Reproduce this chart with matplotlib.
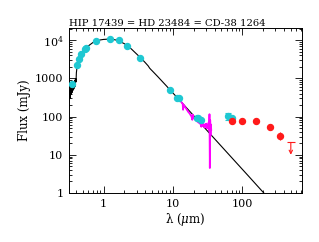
import matplotlib
matplotlib.use("Agg")
import matplotlib.pyplot as plt
from matplotlib.ticker import LogLocator, NullFormatter, FixedLocator, FixedFormatter

plt.rcParams["font.family"] = ["DejaVu Serif"]
plt.rcParams["mathtext.fontset"] = "dejavuserif"

# photometry (cyan)
phot_wl = [0.35, 0.41, 0.44, 0.466, 0.54, 0.55, 0.77, 1.23, 1.66, 2.19, 3.35, 9.06, 11.6, 12.1, 22.0, 23.2, 25.0, 72.0]
phot_fx = [710, 2200, 3150, 4400, 5900, 6200, 9200, 10800, 9800, 7200, 3450, 500, 310, 300, 92, 89, 80, 89]
# IRAS 60 with error bar
iras_wl = [61.5]
iras_fx = [104]
iras_err = [22]

# far-IR photometry (red)
fir_wl = [72, 100, 160, 250, 350]
fir_fx = [76, 76, 76, 52, 31.5]
fir_err = [4, 4, 4, 6, 7]
ul_wl = [500]
ul_fx = [21]

# photospheric model
mod_wl = [0.316, 0.325, 0.33, 0.335, 0.34, 0.345, 0.35, 0.355, 0.36, 0.365, 0.37, 0.375,
          0.38, 0.385, 0.39, 0.395, 0.40, 0.405, 0.41, 0.42, 0.44, 0.47, 0.50, 0.55, 0.6,
          0.7, 0.8, 0.9, 1.0, 1.2, 1.4, 1.6, 2.0, 2.5, 3.0, 3.5, 4.0, 4.4, 4.6, 4.8,
          5.0, 6, 8, 10, 12, 15, 20, 30, 50, 80, 120, 200, 300]
mod_fx = [230, 480, 300, 560, 380, 650, 420, 700, 480, 760, 520, 820,
          560, 900, 620, 980, 800, 1400, 1700, 2300, 3200, 4200, 5000, 6000, 7000,
          8600, 9500, 10100, 10400, 10600, 10300, 9800, 8000, 5900, 4300, 3300, 2550, 2100, 1850, 1700,
          1580, 1120, 640, 410, 290, 185, 104, 46, 16.6, 6.5, 2.9, 1.04, 0.46]

# IRS spectrum (magenta)
irs_wl = [13.2, 13.5, 13.8, 14.0, 14.2, 14.5, 14.8, 15.1, 15.4, 15.8, 16.2, 16.6, 17.0,
          17.5, 18.0, 18.5, 19.0, 19.3, 19.6, 20.0, 20.4, 20.8, 21.3, 21.8, 22.3, 22.8,
          23.3, 23.8, 24.4, 25.0, 25.6, 26.2, 26.8, 27.4, 28.0, 28.6, 29.2, 29.8, 30.4,
          31.0, 31.6, 32.2, 32.8, 33.2, 33.6, 34.0, 34.4, 34.8, 35.2, 35.6]
irs_fx = [240, 225, 215, 150, 205, 190, 182, 172, 165, 152, 142, 132, 126,
          118, 108, 100, 82, 112, 96, 92, 88, 84, 80, 78, 75, 72,
          70, 68, 66, 63, 54, 66, 57, 64, 59, 51, 63, 56, 65,
          49, 61, 54, 72, 44, 115, 4.5, 80, 32, 62, 45]

cyan = "#1fc8d2"
red = "#ff1a1a"

fig = plt.figure(figsize=(3.19, 2.42), dpi=100)
ax = fig.add_axes([0.216, 0.2025, 0.731, 0.6835])

ax.plot(mod_wl, mod_fx, color="black", lw=0.8, zorder=2)
ax.plot(irs_wl, irs_fx, color="#ff00ff", lw=1.3, zorder=3)
ax.plot(phot_wl, phot_fx, "o", color=cyan, ms=4.3, mec=cyan, zorder=4)
ax.errorbar(iras_wl, iras_fx, yerr=iras_err, fmt="o", color=cyan, ms=4.3,
            capsize=2, elinewidth=0.8, capthick=0.8, zorder=4)
ax.errorbar(fir_wl, fir_fx, yerr=fir_err, fmt="o", color=red, ms=4.3,
            capsize=0, elinewidth=0.8, zorder=5)
for w, f in zip(ul_wl, ul_fx):
    ax.plot([w], [f], marker="_", color=red, ms=6, mew=0.8)
    ax.annotate("", xy=(w, f / 2.1), xytext=(w, f),
                arrowprops=dict(arrowstyle="->", color=red, lw=0.8,
                                shrinkA=0, shrinkB=0, mutation_scale=6))

ax.set_xscale("log")
ax.set_yscale("log")
ax.set_xlim(0.316, 727)
ax.set_ylim(1, 21200)

ax.xaxis.set_major_locator(FixedLocator([1, 10, 100]))
ax.xaxis.set_major_formatter(FixedFormatter(["1", "10", "100"]))
ax.xaxis.set_minor_locator(LogLocator(base=10, subs=range(2, 10)))
ax.xaxis.set_minor_formatter(NullFormatter())
ax.yaxis.set_major_locator(FixedLocator([1, 10, 100, 1000, 1e4]))
ax.yaxis.set_major_formatter(FixedFormatter(["1", "10", "100", "1000", r"10$^4$"]))
ax.yaxis.set_minor_locator(LogLocator(base=10, subs=range(2, 10)))
ax.yaxis.set_minor_formatter(NullFormatter())

ax.tick_params(which="both", direction="in", top=True, right=True,
               labelsize=8, width=0.6, colors="black", pad=4)
ax.tick_params(which="major", length=5)
ax.tick_params(which="minor", length=2.5)
for s in ax.spines.values():
    s.set_linewidth(0.7)

ax.set_xlabel(r"λ ($\mu$m)", fontsize=8.5, labelpad=2)
ax.set_ylabel("Flux (mJy)", fontsize=8.5, labelpad=3)
ax.set_title("HIP 17439 = HD 23484 = CD-38 1264", fontsize=7.2, loc="left", pad=1.5)

fig.savefig("out.png", dpi=100)
